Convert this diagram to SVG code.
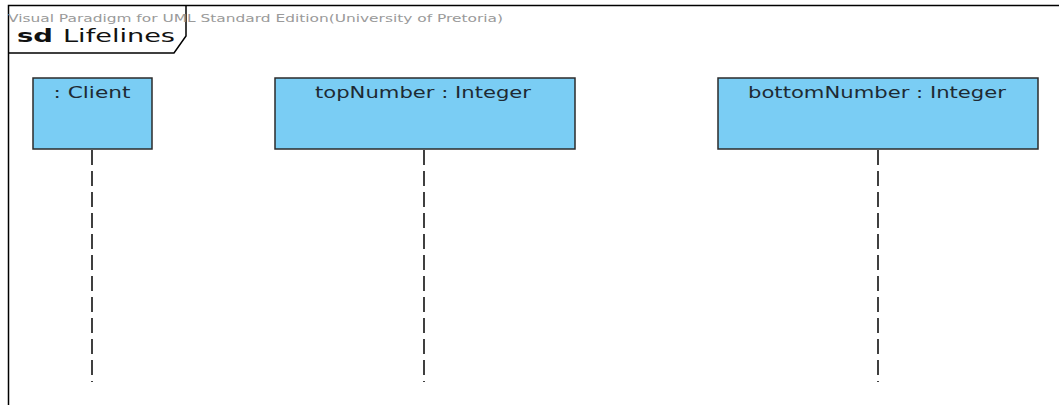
<svg xmlns="http://www.w3.org/2000/svg" width="1059" height="405" viewBox="0 0 1059 405">
<style>
.head{fill:#7acdf4;stroke:#2b2b2b;stroke-width:1.5}
.lbl{font-family:"DejaVu Sans","Liberation Sans",sans-serif;font-size:15px;fill:#1e2a33;text-anchor:middle}
.life{stroke:#111;stroke-width:1.6;stroke-dasharray:15 6;fill:none}
.frame{stroke:#000;stroke-width:1.5;fill:none}
</style>
<rect x="0" y="0" width="1059" height="405" fill="#fff"/>
<g id="frame">
<path class="frame" d="M8.5,405 V5.5 H1059"/>
<path class="frame" d="M8.5,53 H174 L186,36 V5.5"/>
<text x="8" y="22" font-family="DejaVu Sans,Liberation Sans,sans-serif" font-size="10" fill="#9a9a9a" textLength="495" lengthAdjust="spacingAndGlyphs">Visual Paradigm for UML Standard Edition(University of Pretoria)</text>
<text x="17" y="42" font-family="DejaVu Sans,Liberation Sans,sans-serif" font-size="17" fill="#111"><tspan font-weight="bold" textLength="36" lengthAdjust="spacingAndGlyphs">sd</tspan><tspan x="63" textLength="112" lengthAdjust="spacingAndGlyphs">Lifelines</tspan></text>
</g>
<g id="connectors">
<line class="life" x1="92" y1="150" x2="92" y2="382"/>
<line class="life" x1="424" y1="150" x2="424" y2="382"/>
<line class="life" x1="878" y1="150" x2="878" y2="382"/>
</g>
<g id="client">
<rect class="head" x="33" y="78" width="119" height="71"/>
<text class="lbl" x="92" y="98" textLength="77" lengthAdjust="spacingAndGlyphs">: Client</text>
</g>
<g id="topNumber">
<rect class="head" x="275" y="78" width="300" height="71"/>
<text class="lbl" x="423" y="98" textLength="216" lengthAdjust="spacingAndGlyphs">topNumber : Integer</text>
</g>
<g id="bottomNumber">
<rect class="head" x="718" y="78" width="320" height="71"/>
<text class="lbl" x="877" y="98" textLength="258" lengthAdjust="spacingAndGlyphs">bottomNumber : Integer</text>
</g>
</svg>
